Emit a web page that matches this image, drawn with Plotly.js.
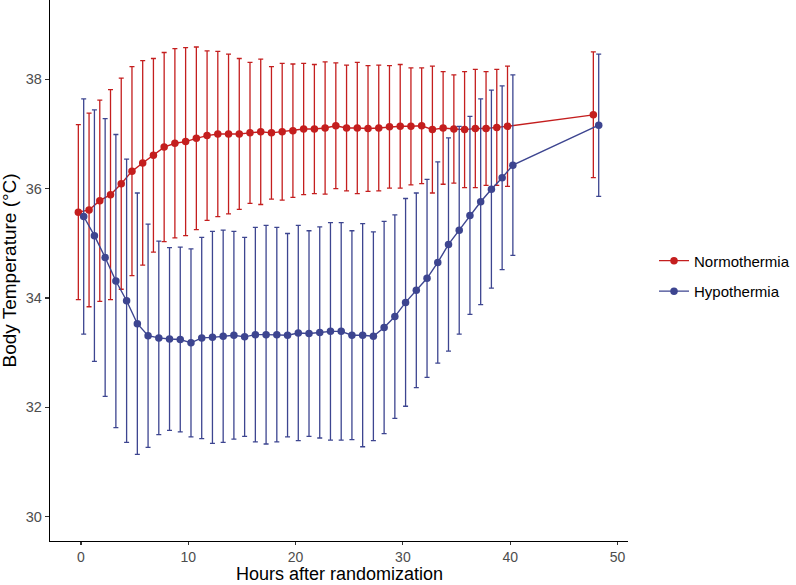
<!DOCTYPE html>
<html>
<head>
<meta charset="utf-8">
<script src="https://cdn.plot.ly/plotly-3.0.1.min.js"></script>
<style>html,body{margin:0;padding:0;background:#fff;}#chart{width:796px;height:585px;}</style>
</head>
<body>
<div id="chart"></div>
<script>
const hours = [0,1,2,3,4,5,6,7,8,9,10,11,12,13,14,15,16,17,18,19,20,21,22,23,24,25,26,27,28,29,30,31,32,33,34,35,36,37,38,39,40,48];
const normMean = [35.57,35.61,35.78,35.89,36.09,36.32,36.47,36.61,36.76,36.83,36.86,36.92,36.97,37.00,37.00,37.00,37.02,37.04,37.02,37.04,37.06,37.09,37.09,37.11,37.15,37.11,37.11,37.10,37.11,37.13,37.14,37.14,37.15,37.08,37.11,37.09,37.08,37.10,37.10,37.12,37.14,37.35];
const normSD = [1.60,1.77,1.84,1.92,1.93,1.91,1.87,1.77,1.73,1.73,1.72,1.67,1.55,1.51,1.46,1.38,1.29,1.33,1.21,1.25,1.22,1.20,1.18,1.21,1.15,1.15,1.20,1.15,1.15,1.12,1.13,1.07,1.06,1.16,1.03,0.99,1.06,1.08,1.04,1.06,1.10,1.15];
const hypoMean = [35.49,35.14,34.74,34.31,33.95,33.53,33.31,33.27,33.25,33.24,33.18,33.27,33.28,33.30,33.32,33.29,33.33,33.33,33.33,33.32,33.36,33.35,33.37,33.39,33.39,33.32,33.32,33.30,33.46,33.66,33.92,34.14,34.36,34.65,34.98,35.24,35.51,35.76,35.99,36.20,36.43,37.16];
const hypoSD = [2.15,2.30,2.54,2.68,2.59,2.39,2.04,1.77,1.67,1.69,1.72,1.84,1.94,1.94,1.90,1.82,1.96,2.00,1.96,1.86,1.97,1.88,1.93,1.99,1.99,1.91,2.04,1.91,1.94,1.86,1.90,1.78,1.81,1.84,1.95,1.90,1.81,1.88,1.81,1.68,1.65,1.30];
const groups = ["Normothermia","Hypothermia"];
const xTicks = [0,10,20,30,40,50];
const yTicks = [30,32,34,36,38];
const xTitle = "Hours after randomization";
const yTitle = "Body Temperature (°C)";

const colors = ["#C41E1E","#3D4590"];
const dodge = 0.25;
const FONT = "Liberation Sans, Arial, sans-serif";

function makeTrace(name, mean, sd, color, off, grp) {
  return {
    type: "scatter", mode: "lines+markers", name: name, legendgroup: grp,
    x: hours.map(h => h + off), y: mean,
    line: {color: color, width: 1.4},
    marker: {color: color, size: 7.5},
    error_y: {type: "data", array: sd, symmetric: true, color: color, thickness: 1.3, width: 2.5}
  };
}

const data = [
  makeTrace(groups[0], normMean, normSD, colors[0], -dodge, "a"),
  makeTrace(groups[1], hypoMean, hypoSD, colors[1], dodge, "b")
];

const layout = {
  width: 796, height: 585,
  margin: {l: 50, r: 168, t: 0, b: 44, pad: 0},
  paper_bgcolor: "#fff", plot_bgcolor: "#fff",
  font: {family: FONT, size: 14, color: "#4D4D4D"},
  showlegend: true,
  legend: {x: 1.045, xanchor: "left", y: 0.49, yanchor: "middle", font: {family: FONT, size: 15, color: "#000"},
           bgcolor: "rgba(0,0,0,0)", traceorder: "grouped", tracegroupgap: 8},
  xaxis: {
    range: [-2.89, 50.98], tickvals: xTicks, ticktext: xTicks.map(String),
    showgrid: false, zeroline: false, showline: true, linecolor: "#000", linewidth: 1.3,
    ticks: "outside", ticklen: 3, tickwidth: 1.2, tickcolor: "#333",
    tickfont: {family: FONT, size: 14, color: "#4D4D4D"}
  },
  yaxis: {
    range: [29.556, 39.45], tickvals: yTicks, ticktext: yTicks.map(String),
    showgrid: false, zeroline: false, showline: true, linecolor: "#000", linewidth: 1.3,
    ticks: "outside", ticklen: 4, tickwidth: 1.2, tickcolor: "#333",
    tickfont: {family: FONT, size: 14.5, color: "#4D4D4D"}
  },
  annotations: [
    {text: xTitle, xref: "paper", yref: "paper", x: 0.5, y: -0.0813, xanchor: "center", yanchor: "bottom",
     borderpad: 0, showarrow: false, font: {family: FONT, size: 18, color: "#000"}},
    {text: yTitle, xref: "paper", yref: "paper", x: -0.0709, y: 0.5, xanchor: "center", yanchor: "middle",
     textangle: -90, showarrow: false, font: {family: FONT, size: 19, color: "#000"}}
  ]
};

Plotly.newPlot("chart", data, layout, {displayModeBar: false, staticPlot: true});
</script>
</body>
</html>
